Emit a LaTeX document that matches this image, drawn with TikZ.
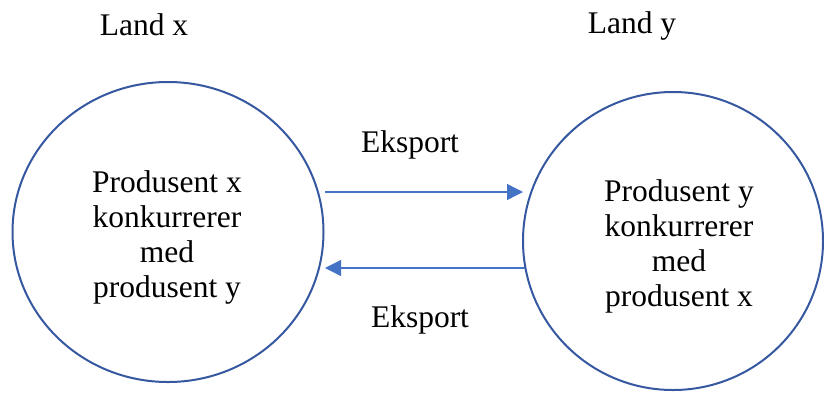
\documentclass[tikz,border=0pt]{standalone}
\usepackage{fontspec}
\setmainfont{Liberation Serif}
\usetikzlibrary{shapes.geometric,arrows.meta}
\definecolor{ringblue}{HTML}{3558A0}
\definecolor{flowblue}{HTML}{4472C4}
\tikzset{
  country/.style={draw=ringblue, line width=2pt, ellipse, inner sep=0pt},
  body/.style={font=\fontsize{31.5}{35}\selectfont, align=center, inner sep=0pt},
  label/.style={font=\fontsize{31.5}{36}\selectfont, inner sep=0pt},
  flow/.style={draw=flowblue, line width=1.3pt,
    -{Triangle[length=16pt,width=16pt]}}
}
\begin{document}
\begin{tikzpicture}[x=1pt,y=-1pt]
  \useasboundingbox (0,0) rectangle (824,392);

  % the two countries
  \node[country, minimum width=311pt, minimum height=300pt] (landx) at (168,232) {};
  \node[country, minimum width=300pt, minimum height=298pt] (landy) at (673,241) {};

  \node[body] (tx) at (167,237) {Produsent x\\konkurrerer\\med\\produsent y};
  \node[body] (ty) at (679,246) {Produsent y\\konkurrerer\\med\\produsent x};

  \node[label] (lx) at (144,25) {Land x};
  \node[label] (ly) at (632,26) {Land y};

  % export flows between the countries
  \coordinate (a1) at (325,192);
  \coordinate (b1) at (523,192);
  \coordinate (a2) at (525,268);
  \coordinate (b2) at (325,268);
  \draw[flow] (a1) -- (b1);
  \draw[flow] (a2) -- (b2);

  \node[label] (e1) at (410,145) {Eksport};
  \node[label] (e2) at (420,320) {Eksport};
\end{tikzpicture}
\end{document}
